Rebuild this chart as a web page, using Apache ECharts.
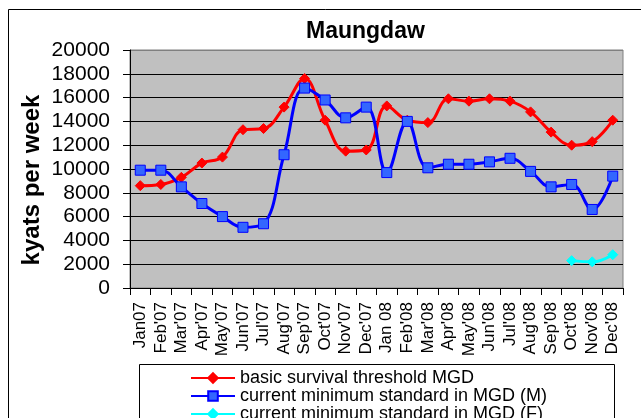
<!DOCTYPE html>
<html>
<head>
<meta charset="utf-8">
<script src="https://cdn.jsdelivr.net/npm/echarts@6.0.0/dist/echarts.min.js"></script>
<style>
  html, body { margin: 0; padding: 0; background: #fff; }
  #chart { width: 641px; height: 418px; }
</style>
</head>
<body>
<div id="chart"></div>
<script>
// months on the x axis
const months = ["Jan07", "Feb'07", "Mar'07", "Apr'07", "May'07", "Jun'07", "Jul'07", "Aug'07",
  "Sep'07", "Oct'07", "Nov'07", "Dec'07", "Jan 08", "Feb'08", "Mar'08", "Apr'08", "May'08",
  "Jun'08", "Jul'08", "Aug'08", "Sep'08", "Oct'08", "Nov'08", "Dec'08"];

// kyats per week
const survivalThreshold = [8600, 8700, 9300, 10500, 11000, 13300, 13400, 15200, 17600, 14100,
  11500, 11600, 15300, 14100, 13900, 15900, 15700, 15900, 15700, 14800, 13100, 12000, 12300, 14100];
const minStandardM = [9900, 9900, 8500, 7100, 6000, 5100, 5400, 11200, 16800, 15800,
  14300, 15200, 9700, 14000, 10100, 10400, 10400, 10600, 10900, 9800, 8500, 8700, 6600, 9400];
const minStandardF = [null, null, null, null, null, null, null, null, null, null, null, null,
  null, null, null, null, null, null, null, null, null, 2300, 2200, 2800];

const yTicks = { min: 0, max: 20000, interval: 2000 };

const seriesNames = ['basic survival threshold MGD', 'current minimum standard in MGD (M)',
  'current minimum standard in MGD (F)'];

const font = 'Liberation Sans, Arial, sans-serif';

const myChart = echarts.init(document.getElementById('chart'));

// black grid lines, grey one on top where the plot border is
const gridColors = [];
for (let v = yTicks.min; v <= yTicks.max; v += yTicks.interval) {
  gridColors.push(v === yTicks.max ? '#808080' : '#000000');
}

const option = {
  animation: false,
  backgroundColor: '#ffffff',
  title: {
    text: 'Maungdaw',
    left: 306,
    top: 20,
    padding: 0,
    textStyle: { fontFamily: font, fontSize: 23, fontWeight: 'bold', color: '#000' }
  },
  grid: {
    left: 130, right: 18, top: 50, bottom: 130,
    show: true,
    backgroundColor: '#c0c0c0',
    borderColor: '#808080',
    borderWidth: 1
  },
  legend: {
    orient: 'vertical',
    left: 190,
    top: 369,
    height: 100,
    padding: 0,
    itemGap: 0,
    itemWidth: 44,
    itemHeight: 12,
    textStyle: { fontFamily: font, fontSize: 18, color: '#000', lineHeight: 17.5 },
    data: seriesNames
  },
  xAxis: {
    type: 'category',
    data: months,
    boundaryGap: true,
    axisLine: { lineStyle: { color: '#000', width: 1 } },
    axisTick: { show: true, length: 7, lineStyle: { color: '#000' } },
    axisLabel: {
      interval: 0,
      rotate: 90,
      margin: 14,
      fontFamily: font,
      fontSize: 17,
      color: '#000'
    },
    splitLine: { show: false }
  },
  yAxis: {
    type: 'value',
    min: yTicks.min,
    max: yTicks.max,
    interval: yTicks.interval,
    axisLine: { show: true, lineStyle: { color: '#000', width: 1 } },
    axisTick: { show: true, length: 7, lineStyle: { color: '#000' } },
    axisLabel: {
      margin: 20, fontFamily: font, fontSize: 21, color: '#000',
      formatter: (v) => String(v)
    },
    splitLine: { show: true, lineStyle: { color: gridColors, width: 1 } }
  },
  graphic: [
    {
      type: 'rect',
      silent: true,
      shape: { x: 8.5, y: 9.5, width: 1000, height: 1000 },
      style: { fill: 'none', stroke: '#000', lineWidth: 1 }
    },
    {
      type: 'rect',
      silent: true,
      shape: { x: 139.5, y: 364.5, width: 475, height: 100 },
      style: { fill: 'none', stroke: '#000', lineWidth: 1 }
    },
    {
      type: 'text',
      silent: true,
      x: 32,
      y: 180,
      rotation: Math.PI / 2,
      style: {
        text: 'kyats per week',
        font: 'bold 24px ' + font,
        fill: '#000',
        align: 'center',
        verticalAlign: 'middle'
      }
    }
  ],
  series: [
    {
      name: seriesNames[0],
      type: 'line',
      data: survivalThreshold,
      smooth: 0.4,
      symbol: 'diamond',
      symbolSize: 10,
      lineStyle: { color: '#ff0000', width: 3 },
      itemStyle: { color: '#ff0000', borderColor: '#ff0000', borderWidth: 1 }
    },
    {
      name: seriesNames[1],
      type: 'line',
      data: minStandardM,
      smooth: 0.4,
      symbol: 'rect',
      symbolSize: 10,
      lineStyle: { color: '#0000ff', width: 3 },
      itemStyle: { color: '#3366ff', borderColor: '#0000ff', borderWidth: 1 }
    },
    {
      name: seriesNames[2],
      type: 'line',
      data: minStandardF,
      smooth: 0.4,
      symbol: 'diamond',
      symbolSize: 10,
      lineStyle: { color: '#00ffff', width: 3 },
      itemStyle: { color: '#00ffff', borderColor: '#00ffff', borderWidth: 1 }
    }
  ]
};

myChart.setOption(option);
</script>
</body>
</html>
